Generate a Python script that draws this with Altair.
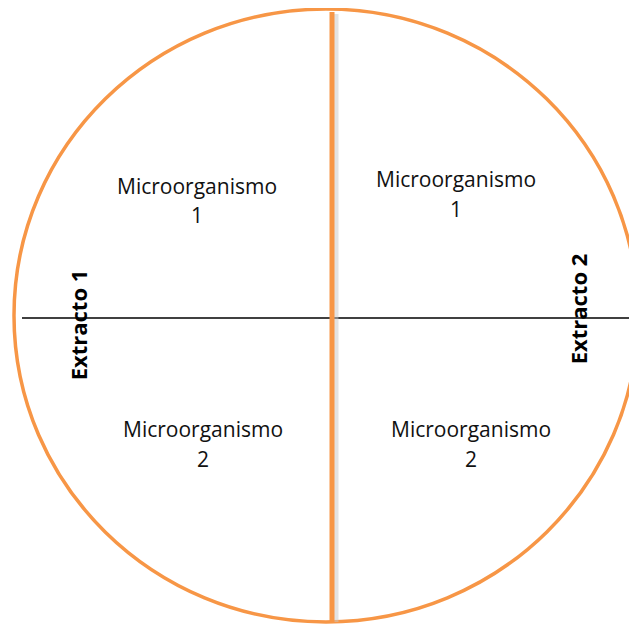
import altair as alt
import pandas as pd

# Diagram coordinates (screen-like units)
circle_cx = [326]
circle_cy = [315.5]

label_text = ["Microorganismo", "1", "Microorganismo", "1",
              "Microorganismo", "2", "Microorganismo", "2"]
label_x = [197, 197, 456, 456, 203, 203, 471, 471]
label_y = [188, 217, 181, 211, 431, 461, 431, 461]

side_text = ["Extracto 1", "Extracto 2"]
side_x = [80, 580]
side_y = [325, 309]

ORANGE = "#F79646"

W, H = 621, 616
xs = alt.Scale(domain=[8, 8 + W], nice=False, zero=False)
ys = alt.Scale(domain=[8, 8 + H], nice=False, zero=False, reverse=True)

circ_df = pd.DataFrame({"x": circle_cx, "y": circle_cy})
lab_df = pd.DataFrame({"t": label_text, "x": label_x, "y": label_y})
side_df = pd.DataFrame({"t": side_text, "x": side_x, "y": side_y})
hline_df = pd.DataFrame({"x": [22], "x2": [640], "y": [318]})
vline_df = pd.DataFrame({"x": [332], "y": [12], "y2": [622]})
vshadow_df = pd.DataFrame({"x": [336], "y": [14], "y2": [622]})

X = lambda f="x": alt.X(f"{f}:Q", scale=xs, axis=None)
Y = lambda f="y": alt.Y(f"{f}:Q", scale=ys, axis=None)

# slightly flattened ellipse outline (unit path, scaled by symbol size)
ELLIPSE = "M -1 0 A 1 0.982 0 1 1 1 0 A 1 0.982 0 1 1 -1 0 Z"
circle = alt.Chart(circ_df).mark_point(
    shape=ELLIPSE, size=624 * 624, filled=False,
    stroke=ORANGE, strokeWidth=3.5, opacity=1
).encode(x=X(), y=Y())

hline = alt.Chart(hline_df).mark_rule(color="black", strokeWidth=1.5).encode(
    x=X(), x2="x2:Q", y=Y())

vshadow = alt.Chart(vshadow_df).mark_rule(color="#c8c8c8", strokeWidth=5, opacity=0.5).encode(
    x=X(), y=Y(), y2="y2:Q")

vline = alt.Chart(vline_df).mark_rule(color=ORANGE, strokeWidth=5).encode(
    x=X(), y=Y(), y2="y2:Q")

labels = alt.Chart(lab_df).mark_text(
    font="Open Sans", fontSize=21, color="#111111", baseline="middle", align="center"
).encode(x=X(), y=Y(), text="t:N")

sides = alt.Chart(side_df).mark_text(
    font="Open Sans", fontSize=22, fontWeight="bold", color="black",
    angle=270, baseline="middle", align="center"
).encode(x=X(), y=Y(), text="t:N")

chart = alt.layer(circle, hline, vshadow, vline, labels, sides).properties(
    width=W, height=H, padding=0, autosize=alt.AutoSizeParams(type="none")
).configure_view(stroke=None)

chart.save("out.html", embed_options={"renderer": "svg", "actions": False})
